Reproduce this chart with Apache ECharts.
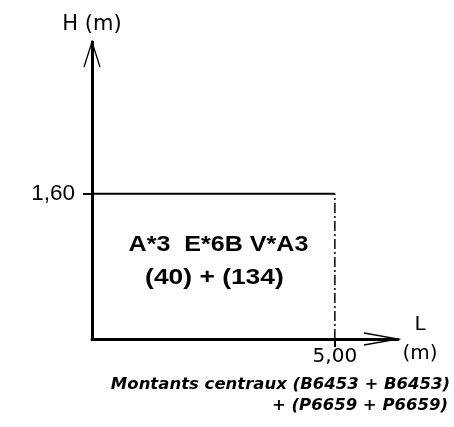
<!DOCTYPE html>
<html>
<head>
<meta charset="utf-8">
<script src="https://cdn.jsdelivr.net/npm/echarts@6/dist/echarts.min.js"></script>
<style>
html,body{margin:0;padding:0;background:#fff;}
#chart{width:454px;height:427px;}
</style>
</head>
<body>
<div id="chart"></div>
<script>
// ---- data ----
const lengthL = 5.00;          // L (m)
const heightH = 1.60;          // H (m)
const xMax = 6.3;              // axis extent (arrow end)
const yMax = 3.27;
const xTickValues = [5.00];
const xTickLabels = ['5,00'];
const yTickValues = [1.60];
const yTickLabels = ['1,60'];
const topEdge = [[0, heightH], [lengthL, heightH]];
const rightEdge = [[lengthL, 0], [lengthL, heightH]];
const boxLabels = ['A*3  E*6B V*A3', '(40) + (134)'];
const xAxisName = 'L';
const xAxisUnit = '(m)';
const yAxisName = 'H (m)';
const titleLines = ['Montants centraux (B6453 + B6453)', '+ (P6659 + P6659)'];

const chart = echarts.init(document.getElementById('chart'), null, {renderer: 'canvas'});

function labelFor(values, labels) {
  return function (v) {
    for (let i = 0; i < values.length; i++) {
      if (Math.abs(values[i] - v) < 1e-9) return labels[i];
    }
    return '';
  };
}

const option = {
  animation: false,
  backgroundColor: '#fff',
  grid: {left: 92, right: 56, top: 42, bottom: 88, containLabel: false},
  xAxis: {
    type: 'value',
    min: 0,
    max: xMax,
    name: xAxisName + '\n' + xAxisUnit,
    nameLocation: 'end',
    nameGap: 22,
    nameTextStyle: {
      fontFamily: 'DejaVu Sans', fontSize: 20, color: '#000',
      align: 'center', verticalAlign: 'middle', lineHeight: 29
    },
    splitLine: {show: false},
    axisLine: {show: true, onZero: false, lineStyle: {color: '#000', width: 3}},
    axisTick: {show: true, customValues: xTickValues, length: 8, lineStyle: {color: '#000', width: 2}},
    axisLabel: {
      show: true, customValues: xTickValues, margin: 8,
      formatter: labelFor(xTickValues, xTickLabels),
      fontFamily: 'DejaVu Sans', fontSize: 20, color: '#000'
    }
  },
  yAxis: {
    type: 'value',
    min: 0,
    max: yMax,
    name: yAxisName,
    nameLocation: 'end',
    nameGap: 7,
    nameTextStyle: {fontFamily: 'DejaVu Sans', fontSize: 21, color: '#000', align: 'center', verticalAlign: 'bottom'},
    splitLine: {show: false},
    axisLine: {show: true, onZero: false, lineStyle: {color: '#000', width: 3}},
    axisTick: {show: true, customValues: yTickValues, length: 9, lineStyle: {color: '#000', width: 2}},
    axisLabel: {
      show: true, customValues: yTickValues, margin: 17,
      formatter: labelFor(yTickValues, yTickLabels),
      fontFamily: 'Liberation Sans', fontSize: 22.5, color: '#000'
    }
  },
  series: [
    {
      name: 'haut', type: 'line', data: topEdge, symbol: 'none',
      lineStyle: {color: '#000', width: 2}, silent: true, z: 3
    },
    {
      name: 'droite', type: 'line', data: rightEdge, symbol: 'none',
      lineStyle: {color: '#000', width: 1.5, type: [10, 3, 2, 3]}, silent: true, z: 2
    }
  ]
};
chart.setOption(option);

const origin = chart.convertToPixel({gridIndex: 0}, [0, 0]);
const xEnd = chart.convertToPixel({gridIndex: 0}, [xMax, 0]);
const yEnd = chart.convertToPixel({gridIndex: 0}, [0, yMax]);
const corner = chart.convertToPixel({gridIndex: 0}, [lengthL, heightH]);
const cx = (origin[0] + corner[0]) / 2;
const cy = (origin[1] + corner[1]) / 2;
const W = chart.getWidth();

const arrowStyle = {stroke: '#000', lineWidth: 1.3, fill: null};
const boxFont = 'bold 22px "Liberation Sans", Arial, sans-serif';
const titleFont = 'italic bold 16.5px "DejaVu Sans", Verdana, sans-serif';
chart.setOption({
  graphic: [
    {type: 'polyline', shape: {points: [[yEnd[0] - 8, yEnd[1] + 25], [yEnd[0], yEnd[1]], [yEnd[0] + 8, yEnd[1] + 25]]}, style: arrowStyle, z: 10},
    {type: 'polyline', shape: {points: [[xEnd[0] - 34, xEnd[1] - 6], [xEnd[0], xEnd[1]], [xEnd[0] - 34, xEnd[1] + 6]]}, style: arrowStyle, z: 10},
    {type: 'text', x: cx + 5, y: cy - 21, scaleX: 1.14,
      style: {text: boxLabels[0], font: boxFont, fill: '#000', align: 'center', verticalAlign: 'middle'}, z: 10},
    {type: 'text', x: cx + 1, y: cy + 12, scaleX: 1.2,
      style: {text: boxLabels[1], font: boxFont, fill: '#000', align: 'center', verticalAlign: 'middle'}, z: 10},
    {type: 'text', x: W - 4, y: 385,
      style: {text: titleLines[0], font: titleFont, fill: '#000', align: 'right', verticalAlign: 'middle'}, z: 10},
    {type: 'text', x: W - 6, y: 406,
      style: {text: titleLines[1], font: titleFont, fill: '#000', align: 'right', verticalAlign: 'middle'}, z: 10}
  ]
});
</script>
</body>
</html>
